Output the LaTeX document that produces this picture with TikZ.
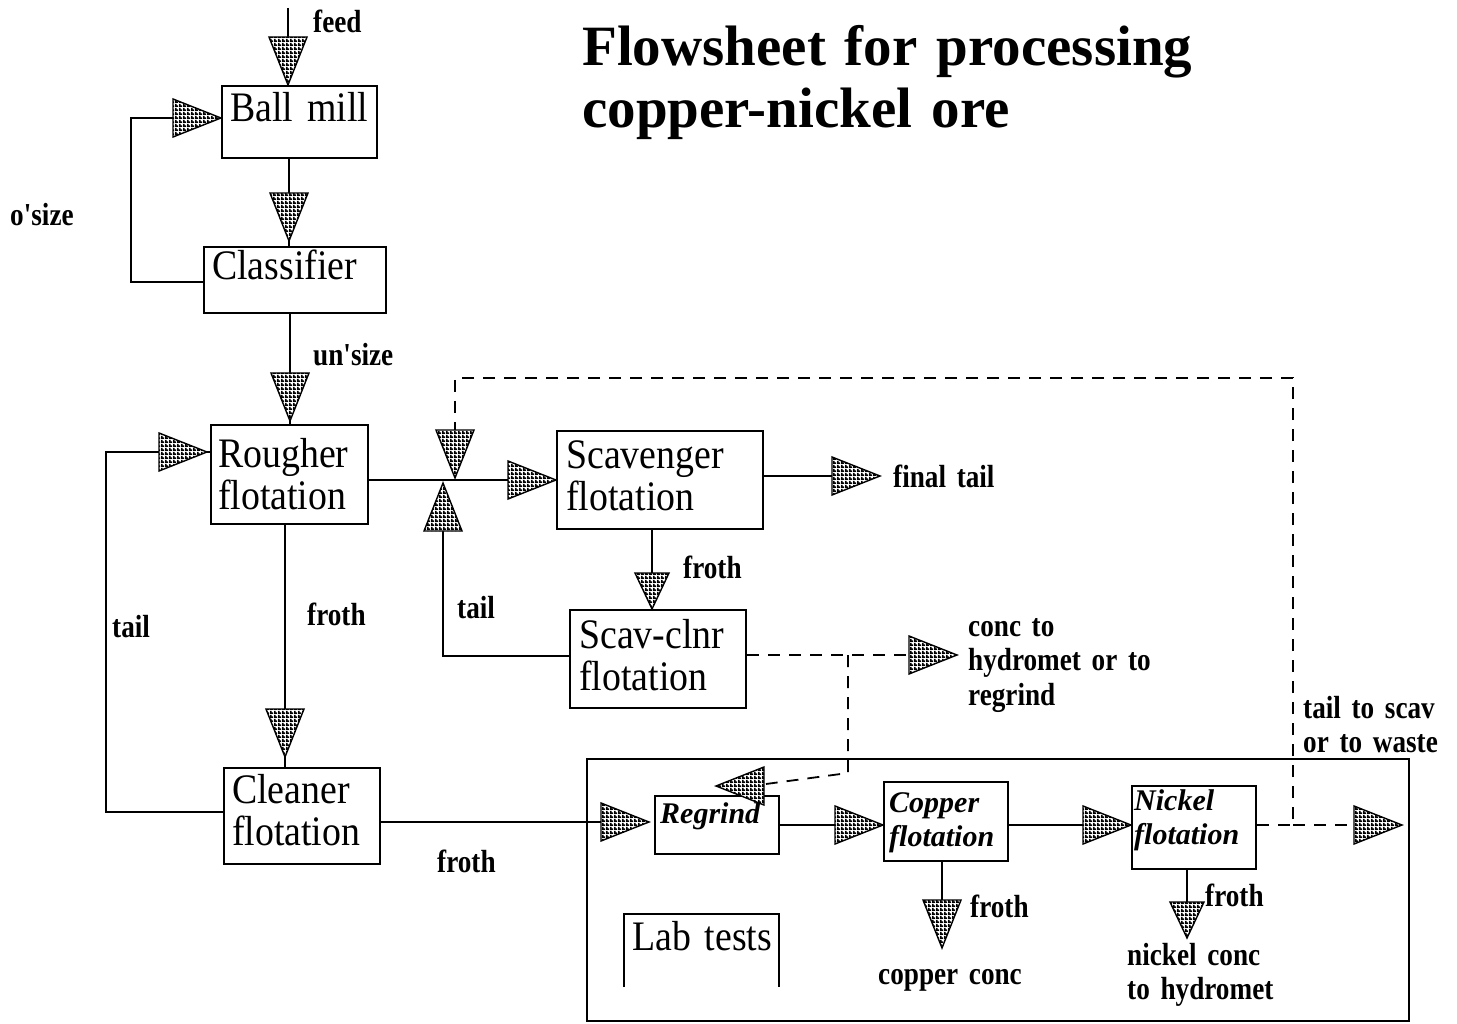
\documentclass[tikz,border=0pt]{standalone}
\usepackage{fontspec}
\setmainfont{Liberation Serif}
\newfontfamily\boxfont[FakeStretch=0.9]{Liberation Serif}
\newfontfamily\lblfont[FakeStretch=0.85]{Liberation Serif}
\usetikzlibrary{patterns,calc}
\newcommand\tightsp[1]{\fontdimen2\font=#1em\relax}
\pgfdeclarepatternformonly{hgrid}{\pgfpointorigin}{\pgfqpoint{3.5pt}{3.5pt}}{\pgfqpoint{3.5pt}{3.5pt}}{%
  \pgfpathrectangle{\pgfpointorigin}{\pgfqpoint{3.5pt}{1.9pt}}%
  \pgfpathrectangle{\pgfpointorigin}{\pgfqpoint{1.9pt}{3.5pt}}%
  \pgfusepath{fill}}
\begin{document}
\begin{tikzpicture}[x=1pt,y=-1pt,
  box/.style={draw, line width=2pt, inner sep=0pt, anchor=north west},
  btxt/.style={anchor=base west, inner sep=0pt, text width=200pt, align=left, font=\boxfont\fontsize{42}{42}\selectfont\tightsp{0.15}},
  itxt/.style={anchor=base west, inner sep=0pt, text width=150pt, align=left, font=\bfseries\itshape\fontsize{30}{34}\selectfont},
  lbl/.style={anchor=base west, inner sep=0pt, text width=260pt, align=left, font=\lblfont\bfseries\fontsize{32}{34.5}\selectfont\tightsp{0.15}},
  flow/.style={line width=1.8pt},
  dflow/.style={line width=1.8pt, dash pattern=on 12pt off 9pt},
  tri/.pic={\path[draw, line width=1.4pt, preaction={fill=white}, pattern=hgrid] (0,0) -- (-48,19) -- (-48,-19) -- cycle;},
  trismall/.pic={\path[draw, line width=1.4pt, preaction={fill=white}, pattern=hgrid] (0,0) -- (-36,17) -- (-36,-17) -- cycle;}
]
\fill[white] (0,0) rectangle (1457,1024);
\useasboundingbox (0,0) rectangle (1457,1024);

% title
\node[anchor=base west, inner sep=0pt, text width=700pt, align=left,
      font=\bfseries\fontsize{57}{62}\selectfont\tightsp{0.2}] (title) at (582,66) {Flowsheet for processing\\copper-nickel ore};

% boxes
\node[box, minimum width=155, minimum height=72] (ball) at (221,85) {};
\node[box, minimum width=182, minimum height=66] (cls) at (203,246) {};
\node[box, minimum width=157, minimum height=99] (rough) at (210,424) {};
\node[box, minimum width=206, minimum height=98] (scav) at (556,430) {};
\node[box, minimum width=176, minimum height=98] (sc) at (569,609) {};
\node[box, minimum width=156, minimum height=96] (clean) at (223,767) {};
\node[box, minimum width=822, minimum height=262] (lab) at (586,758) {};
\node[box, minimum width=124, minimum height=58] (regr) at (654,795) {};
\node[box, minimum width=124, minimum height=79] (cu) at (883,781) {};
\node[box, minimum width=124, minimum height=83] (ni) at (1131,785) {};

% box texts
\node[btxt] (balltxt) at (230,122) {Ball mill};
\node[btxt] (clstxt) at (212,280) {Classifier};
\node[btxt] (roughtxt) at (218,467) {Rougher\\flotation};
\node[btxt] (scavtxt) at (566,468) {Scavenger\\flotation};
\node[btxt] (sctxt) at (579,648) {Scav-clnr\\flotation};
\node[btxt] (cleantxt) at (232,803) {Cleaner\\flotation};
\node[itxt] (regrtxt) at (660,823) {Regrind};
\node[itxt] (cutxt) at (889,812) {Copper\\flotation};
\node[itxt] (nitxt) at (1134,810) {Nickel\\flotation};

% lab tests (open box)
\draw[line width=2pt] (624,987) -- (624,914) -- (779,914) -- (779,987);
\node[btxt] (labtxt) at (632,950) {Lab tests};

% coordinates
\coordinate (feedtop) at (288,8);
\coordinate (J1) at (455,478);
\coordinate (J2) at (443,483);
\coordinate (br) at (848,655);
\coordinate (rgin) at (716,786);
\coordinate (outni) at (1402,825);
\coordinate (outsc) at (957,655);
\coordinate (outscav) at (880,476);
\coordinate (cufr) at (942,948);
\coordinate (nifr) at (1187,938);

% solid connectors
\draw[flow] (feedtop) -- (feedtop |- ball.north);
\draw[flow] (289,0 |- ball.south) -- (289,0 |- cls.north);
\draw[flow] (cls.west |- 0,282) -- (131,282) -- (131,118) -- (ball.west |- 0,118);
\draw[flow] (290,0 |- cls.south) -- (290,0 |- rough.north);
\draw[flow] (285,0 |- rough.south) -- (285,0 |- clean.north);
\draw[flow] (clean.west |- 0,812) -- (106,812) -- (106,452) -- (rough.west |- 0,452);
\draw[flow] (rough.east |- scav.west) -- (scav.west);
\draw[flow] (sc.west |- 0,656) -- (443,656) -- (J2);
\draw[flow] (scav.east |- 0,476) -- (outscav);
\draw[flow] (652,0 |- scav.south) -- (652,0 |- sc.north);
\draw[flow] (clean.east |- 0,822) -- ($(regr.west |- 0,822)+(-5,0)$);
\draw[flow] (regr.east |- 0,825) -- (cu.west |- 0,825);
\draw[flow] (cu.east |- 0,825) -- (ni.west |- 0,825);
\draw[flow] (942,0 |- cu.south) -- (cufr);
\draw[flow] (1187,0 |- ni.south) -- (nifr);

% dashed connectors
\draw[dflow] (ni.east |- 0,825) -- (1293,825) -- (1293,378) -- (455,378) -- (J1);
\draw[dflow] (1293,825) -- (outni);
\draw[dflow] (sc.east |- 0,655) -- (outsc);
\draw[dflow] (br) -- (848,773) -- (766,784);

% arrowheads
\pic[rotate=-90] at (feedtop |- ball.north) {tri};
\pic[rotate=-90] at ($(289,0 |- cls.north)+(0,-5)$) {tri};
\pic at (ball.west |- 0,118) {tri};
\pic[rotate=-90] at ($(290,0 |- rough.north)+(0,-3)$) {tri};
\pic[rotate=-90] at ($(285,0 |- clean.north)+(0,-10)$) {tri};
\pic at ($(rough.west |- 0,452)+(-3,0)$) {tri};
\pic at (scav.west) {tri};
\pic[rotate=-90] at (J1) {tri};
\pic[rotate=90] at (J2) {tri};
\pic at (outscav) {tri};
\pic[rotate=-90] at (652,0 |- sc.north) {trismall};
\pic at (outsc) {tri};
\pic[rotate=180] at (rgin) {tri};
\pic at ($(regr.west |- 0,822)+(-5,0)$) {tri};
\pic at (cu.west |- 0,825) {tri};
\pic at (ni.west |- 0,825) {tri};
\pic at (outni) {tri};
\pic[rotate=-90] at (cufr) {tri};
\pic[rotate=-90] at (nifr) {trismall};

% labels
\node[lbl] (lfeed) at (313,33) {feed};
\node[lbl] (losize) at (10,226) {o'size};
\node[lbl] (lunsize) at (313,366) {un'size};
\node[lbl] (ltail1) at (112,637) {tail};
\node[lbl] (lfroth1) at (307,625) {froth};
\node[lbl] (ltail2) at (457,618) {tail};
\node[lbl] (lfroth2) at (683,578) {froth};
\node[lbl] (lfinal) at (893,487) {final tail};
\node[lbl] (lconc) at (968,636) {conc to\\hydromet or to\\regrind};
\node[lbl] (ltailscav) at (1303,718) {tail to scav\\or to waste};
\node[lbl] (lfroth3) at (437,872) {froth};
\node[lbl] (lfroth4) at (970,917) {froth};
\node[lbl] (lcuconc) at (878,984) {copper conc};
\node[lbl] (lfroth5) at (1205,906) {froth};
\node[lbl] (lniconc) at (1127,965) {nickel conc\\to hydromet};
\end{tikzpicture}
\end{document}
